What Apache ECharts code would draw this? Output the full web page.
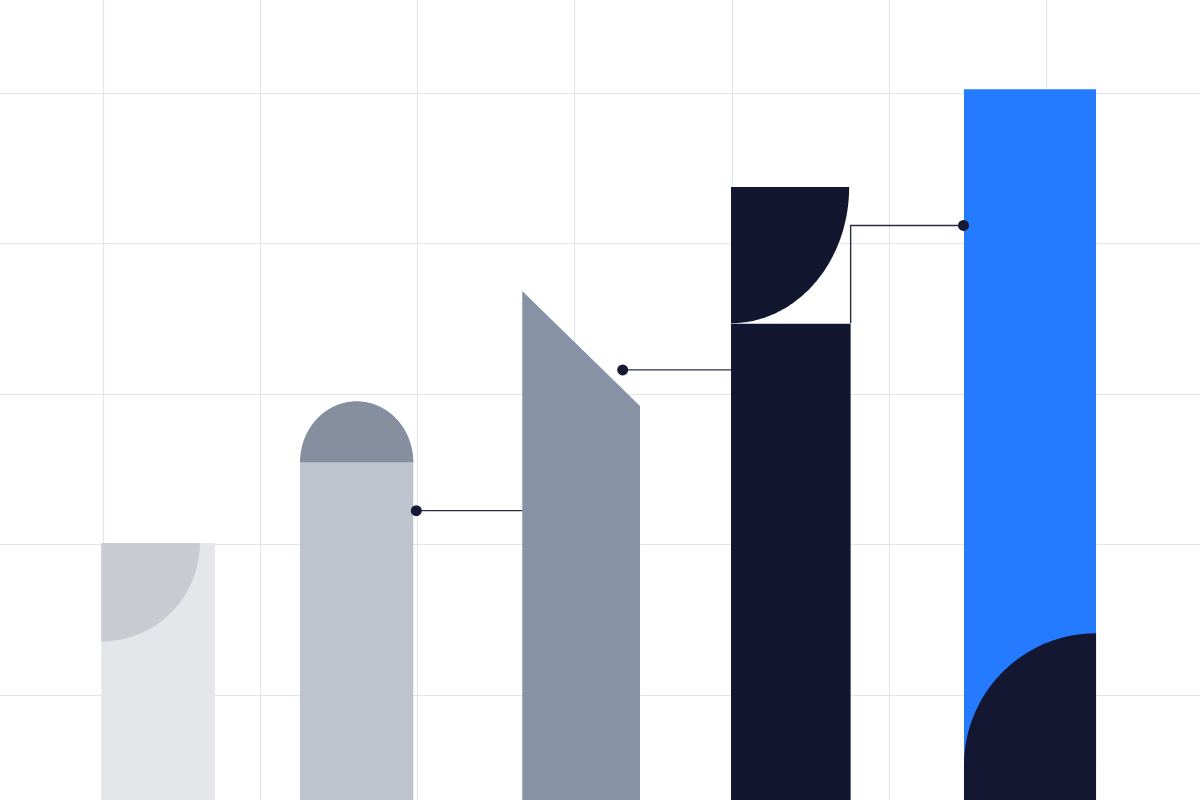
<!DOCTYPE html>
<html>
<head>
<meta charset="utf-8">
<script src="https://cdn.jsdelivr.net/npm/echarts@6/dist/echarts.min.js"></script>
<style>
  html, body { margin: 0; padding: 0; background: #ffffff; }
  #chart { width: 1200px; height: 800px; }
</style>
</head>
<body>
<div id="chart"></div>
<script>
// ---- data ----
const categories = ['A', 'B', 'C', 'D', 'E'];
const barStart = [0.989, 2.253, 3.667, 4.995, 6.477];
const barEnd   = [1.711, 2.974, 4.416, 5.756, 7.317];
const barValue = [40.2, 59.1, 73.7, 87.5, 100.5];
const barSplit = [27.1, 51.0, 58.4, 69.4, 28.2];

const linkLevel  = [44.5, 63.2, 82.4];
const linkDotX   = [2.993, 4.306, 6.474];
const linkEndX   = [3.667, 4.995, 5.756];
const linkDropTo = [null, null, 69.4];

const xTicks = [0, 8, 1];   // min, max, interval
const yTicks = [0, 120, 20];

// ---- styles ----
const bodyColor   = ['#e5e6ea', '#bfc4cf', '#8792a5', '#12162f', '#247bff'];
const accentColor = ['#c8cbd2', '#858fa0', '#8792a5', '#12162f', '#131731'];
const shapeKind   = ['quarterTL', 'roundCap', 'slant', 'notch', 'baseQuarter'];
const inkColor = '#151933';

function arcPoints(cx, cy, rx, ry, a0, a1, n) {
  const pts = [];
  for (let k = 0; k <= n; k++) {
    const t = (a0 + (a1 - a0) * k / n) * Math.PI / 180;
    pts.push([cx + rx * Math.cos(t), cy + ry * Math.sin(t)]);
  }
  return pts;
}

function renderBar(params, api) {
  const i = params.dataIndex;
  const pTopL = api.coord([barStart[i], barValue[i]]);
  const pBotR = api.coord([barEnd[i], 0]);
  const X0 = pTopL[0], Ytop = pTopL[1], X1 = pBotR[0], Y0 = pBotR[1];
  const Ys = api.coord([barStart[i], barSplit[i]])[1];
  const w = X1 - X0;
  const kids = [];
  const kind = shapeKind[i];
  if (kind === 'quarterTL') {
    kids.push({ type: 'rect', shape: { x: X0, y: Ytop, width: w, height: Y0 - Ytop }, style: { fill: bodyColor[i] } });
    const r = Ys - Ytop;
    const pts = [[X0, Ytop]].concat(arcPoints(X0, Ytop, r, r, 0, 90, 60));
    kids.push({ type: 'polygon', shape: { points: pts }, style: { fill: accentColor[i] } });
  } else if (kind === 'roundCap') {
    kids.push({ type: 'rect', shape: { x: X0, y: Ys, width: w, height: Y0 - Ys }, style: { fill: bodyColor[i] } });
    const pts = arcPoints(X0 + w / 2, Ys + 0.5, w / 2, Ys - Ytop, 180, 360, 80);
    kids.push({ type: 'polygon', shape: { points: pts }, style: { fill: accentColor[i] } });
  } else if (kind === 'slant') {
    kids.push({ type: 'polygon', shape: { points: [[X0, Y0], [X0, Ytop], [X1, Ys], [X1, Y0]] }, style: { fill: bodyColor[i] } });
  } else if (kind === 'notch') {
    kids.push({ type: 'rect', shape: { x: X0, y: Ys + 0.6, width: w, height: Y0 - Ys }, style: { fill: bodyColor[i] } });
    const pts = [[X0, Ytop]].concat(arcPoints(X0, Ytop, w - 1.5, Ys - Ytop, 0, 90, 80));
    kids.push({ type: 'polygon', shape: { points: pts }, style: { fill: accentColor[i] } });
  } else if (kind === 'baseQuarter') {
    kids.push({ type: 'rect', shape: { x: X0, y: Ytop, width: w, height: Y0 - Ytop }, style: { fill: bodyColor[i] } });
    const r = w;
    const cy = Ys + r;
    const pts = [[X1, Y0]].concat(arcPoints(X1, cy, r, r, 270, 180, 80)).concat([[X0, Y0]]);
    kids.push({ type: 'polygon', shape: { points: pts }, style: { fill: accentColor[i] } });
  }
  return { type: 'group', children: kids };
}

function renderLink(params, api) {
  const i = params.dataIndex;
  const d = api.coord([linkDotX[i], linkLevel[i]]);
  const e = api.coord([linkEndX[i], linkLevel[i]]);
  const pts = [d, e];
  if (linkDropTo[i] !== null) {
    pts.push(api.coord([linkEndX[i], linkDropTo[i]]));
  }
  return {
    type: 'group',
    children: [
      { type: 'polyline', shape: { points: pts }, style: { stroke: '#2a2d40', lineWidth: 1.4, fill: null } },
      { type: 'circle', shape: { cx: d[0], cy: d[1], r: 5.5 }, style: { fill: inkColor } }
    ]
  };
}

const barData = categories.map((c, i) => ({ name: c, value: [barStart[i], barEnd[i], barValue[i], barSplit[i]] }));
const linkData = linkLevel.map((v, i) => [linkDotX[i], v]);

const chart = echarts.init(document.getElementById('chart'), null, { renderer: 'canvas' });
const hiddenAxis = { show: true, axisLine: { show: false }, axisTick: { show: false }, axisLabel: { show: false } };
chart.setOption({
  animation: false,
  backgroundColor: '#ffffff',
  grid: { left: -54.2, top: -57.5, width: 1257.6, height: 903, containLabel: false, outerBoundsMode: 'none' },
  xAxis: Object.assign({ type: 'value', min: xTicks[0], max: xTicks[1], interval: xTicks[2],
    splitLine: { show: true, lineStyle: { color: '#e4e5e9', width: 1.2 } } }, hiddenAxis),
  yAxis: Object.assign({ type: 'value', min: yTicks[0], max: yTicks[1], interval: yTicks[2],
    splitLine: { show: true, lineStyle: { color: '#e4e5e9', width: 1.2 } } }, hiddenAxis),
  series: [
    { type: 'custom', renderItem: renderBar, data: barData, encode: { x: [0, 1], y: [2, 3] }, clip: false, z: 2 },
    { type: 'custom', renderItem: renderLink, data: linkData, encode: { x: 0, y: 1 }, clip: false, z: 3 }
  ]
});
</script>
</body>
</html>
